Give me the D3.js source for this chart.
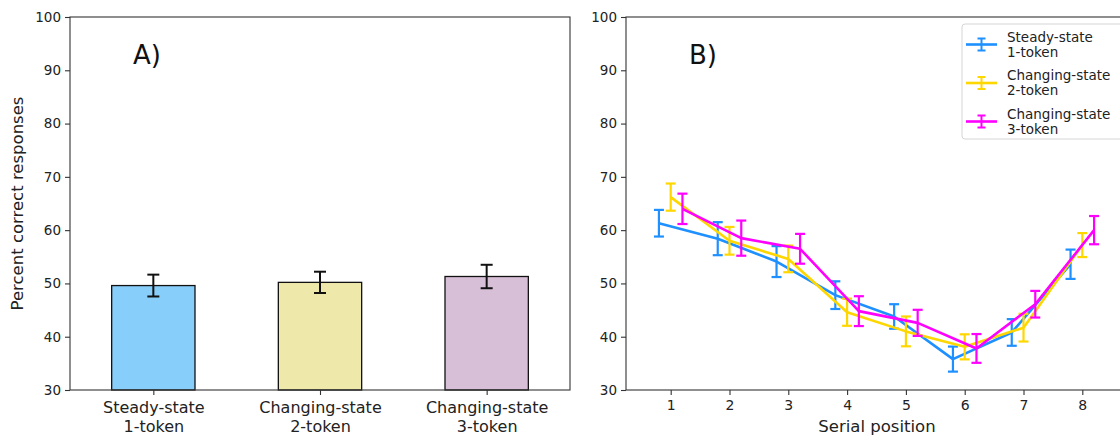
<!DOCTYPE html>
<html>
<head>
<meta charset="utf-8">
<script src="https://cdn.jsdelivr.net/npm/d3@7"></script>
<style>
  body { margin: 0; background: #fff; }
  svg { font-family: "DejaVu Sans", sans-serif; display: block; }
  svg text { font-family: "DejaVu Sans", sans-serif; }
  .axis path, .axis line { stroke: #333; stroke-width: 1.1; }
  .axis text { fill: #222; }
</style>
</head>
<body>
<svg id="chart" width="1120" height="437"></svg>
<script>
// panel A data
var conditions = ["Steady-state\n1-token", "Changing-state\n2-token", "Changing-state\n3-token"];
var overallMean = [49.6, 50.2, 51.3];
var overallErr = [2.05, 2.0, 2.2];
var barColors = ["#87cefa", "#eee8aa", "#d8bfd8"];

// panel B data
var positions = [1, 2, 3, 4, 5, 6, 7, 8];
var steady1 = [61.3, 58.4, 54.1, 47.8, 43.8, 35.8, 40.8, 53.6];
var steady1Err = [2.5, 3.1, 2.9, 2.6, 2.3, 2.35, 2.5, 2.75];
var changing2 = [66.2, 58.0, 54.6, 44.6, 41.0, 38.1, 41.7, 57.2];
var changing2Err = [2.55, 2.6, 2.5, 2.55, 2.8, 2.35, 2.6, 2.25];
var changing3 = [64.0, 58.5, 56.5, 44.8, 42.6, 37.8, 46.1, 60.0];
var changing3Err = [2.85, 3.3, 2.8, 2.8, 2.45, 2.7, 2.5, 2.65];
var yTicks = [30, 40, 50, 60, 70, 80, 90, 100];

var series = [
  {name: ["Steady-state", "1-token"], values: steady1, err: steady1Err, color: "#1e90ff", offset: -0.2},
  {name: ["Changing-state", "2-token"], values: changing2, err: changing2Err, color: "#ffd700", offset: 0},
  {name: ["Changing-state", "3-token"], values: changing3, err: changing3Err, color: "#ff00ff", offset: 0.2}
];

var svg = d3.select("#chart");
var plotTop = 17, plotBottom = 390;

var y = d3.scaleLinear().domain([30, 100]).range([plotBottom, plotTop]);

// ---------- panel A ----------
var xa = d3.scaleLinear().domain([-0.5, 2.5]).range([70, 570]);
var gA = svg.append("g");

gA.selectAll("rect.bar")
  .data(overallMean)
  .enter().append("rect")
  .attr("class", "bar")
  .attr("x", function(d, i) { return xa(i - 0.25); })
  .attr("width", xa(0.25) - xa(-0.25))
  .attr("y", function(d) { return y(d); })
  .attr("height", function(d) { return y(30) - y(d); })
  .attr("fill", function(d, i) { return barColors[i]; })
  .attr("stroke", "#111")
  .attr("stroke-width", 1.3);

var errA = gA.selectAll("g.err").data(overallMean).enter().append("g").attr("class", "err");
errA.append("line")
  .attr("x1", function(d, i) { return xa(i); })
  .attr("x2", function(d, i) { return xa(i); })
  .attr("y1", function(d, i) { return y(d + overallErr[i]); })
  .attr("y2", function(d, i) { return y(d - overallErr[i]); })
  .attr("stroke", "#111").attr("stroke-width", 2);
[1, -1].forEach(function(s) {
  errA.append("line")
    .attr("x1", function(d, i) { return xa(i) - 6; })
    .attr("x2", function(d, i) { return xa(i) + 6; })
    .attr("y1", function(d, i) { return y(d + s * overallErr[i]); })
    .attr("y2", function(d, i) { return y(d + s * overallErr[i]); })
    .attr("stroke", "#111").attr("stroke-width", 2);
});

// frame A
gA.append("rect")
  .attr("x", 70).attr("y", plotTop).attr("width", 500).attr("height", plotBottom - plotTop)
  .attr("fill", "none").attr("stroke", "#333").attr("stroke-width", 1.1);

var yAxisA = gA.append("g").attr("class", "axis")
  .attr("transform", "translate(70,0)")
  .call(d3.axisLeft(y).tickValues(yTicks).tickSize(5).tickPadding(4));
yAxisA.select(".domain").remove();
yAxisA.selectAll("text").style("font-size", "13.5px");

var xAxisA = gA.append("g").attr("class", "axis")
  .attr("transform", "translate(0," + plotBottom + ")")
  .call(d3.axisBottom(xa).tickValues([0, 1, 2]).tickSize(5).tickFormat(""));
xAxisA.select(".domain").remove();
xAxisA.selectAll(".tick").each(function(d) {
  var t = d3.select(this).append("text")
    .attr("fill", "#222").attr("text-anchor", "middle")
    .style("font-size", "16px");
  conditions[d].split("\n").forEach(function(line, k) {
    t.append("tspan").attr("x", 0).attr("y", 23 + k * 18.5).text(line);
  });
});

gA.append("text").attr("x", 133).attr("y", 64)
  .style("font-size", "26px").attr("fill", "#111").text("A)");

svg.append("text")
  .attr("transform", "translate(23," + ((plotTop + plotBottom) / 2) + ") rotate(-90)")
  .attr("text-anchor", "middle")
  .style("font-size", "16.5px").attr("fill", "#222")
  .text("Percent correct responses");

// ---------- panel B ----------
var xb = d3.scaleLinear().domain([0.24, 8.76]).range([626, 1127]);
var gB = svg.append("g");

gB.append("rect")
  .attr("x", 626).attr("y", plotTop).attr("width", 501).attr("height", plotBottom - plotTop)
  .attr("fill", "none").attr("stroke", "#333").attr("stroke-width", 1.1);

var line = d3.line()
  .x(function(d) { return d[0]; })
  .y(function(d) { return d[1]; });

series.forEach(function(s) {
  var g = gB.append("g");
  var pts = positions.map(function(p, i) { return [xb(p + s.offset), y(s.values[i])]; });
  g.append("path").attr("d", line(pts))
    .attr("fill", "none").attr("stroke", s.color).attr("stroke-width", 2.6)
    .attr("stroke-linejoin", "round");
  var eb = g.selectAll("g.eb").data(positions).enter().append("g");
  eb.append("line")
    .attr("x1", function(p) { return xb(p + s.offset); })
    .attr("x2", function(p) { return xb(p + s.offset); })
    .attr("y1", function(p, i) { return y(s.values[i] + s.err[i]); })
    .attr("y2", function(p, i) { return y(s.values[i] - s.err[i]); })
    .attr("stroke", s.color).attr("stroke-width", 2.2);
  [1, -1].forEach(function(sg) {
    eb.append("line")
      .attr("x1", function(p) { return xb(p + s.offset) - 5; })
      .attr("x2", function(p) { return xb(p + s.offset) + 5; })
      .attr("y1", function(p, i) { return y(s.values[i] + sg * s.err[i]); })
      .attr("y2", function(p, i) { return y(s.values[i] + sg * s.err[i]); })
      .attr("stroke", s.color).attr("stroke-width", 2.2);
  });
});

var yAxisB = gB.append("g").attr("class", "axis")
  .attr("transform", "translate(626,0)")
  .call(d3.axisLeft(y).tickValues(yTicks).tickSize(5).tickPadding(4));
yAxisB.select(".domain").remove();
yAxisB.selectAll("text").style("font-size", "13.5px");

var xAxisB = gB.append("g").attr("class", "axis")
  .attr("transform", "translate(0," + plotBottom + ")")
  .call(d3.axisBottom(xb).tickValues(positions).tickSize(5).tickPadding(5));
xAxisB.select(".domain").remove();
xAxisB.selectAll("text").style("font-size", "14px");

gB.append("text").attr("x", 877).attr("y", 432)
  .attr("text-anchor", "middle").style("font-size", "16.5px").attr("fill", "#222")
  .text("Serial position");

gB.append("text").attr("x", 689).attr("y", 64)
  .style("font-size", "26px").attr("fill", "#111").text("B)");

// legend
var lg = gB.append("g").attr("transform", "translate(962,24)");
lg.append("rect").attr("width", 170).attr("height", 115).attr("rx", 3)
  .attr("fill", "#fff").attr("fill-opacity", 0.85).attr("stroke", "#d5d5d5");
series.forEach(function(s, k) {
  var cy = 20.5 + k * 38.5;
  var item = lg.append("g").attr("transform", "translate(0," + cy + ")");
  item.append("line").attr("x1", 4).attr("x2", 35).attr("y1", 0).attr("y2", 0)
    .attr("stroke", s.color).attr("stroke-width", 2.6);
  item.append("line").attr("x1", 19.5).attr("x2", 19.5).attr("y1", -6).attr("y2", 6)
    .attr("stroke", s.color).attr("stroke-width", 2);
  [-6, 6].forEach(function(dy) {
    item.append("line").attr("x1", 15.5).attr("x2", 23.5).attr("y1", dy).attr("y2", dy)
      .attr("stroke", s.color).attr("stroke-width", 2);
  });
  s.name.forEach(function(t, j) {
    item.append("text").attr("x", 45).attr("y", -3 + j * 15)
      .style("font-size", "13.5px").attr("fill", "#222").text(t);
  });
});
</script>
</body>
</html>
